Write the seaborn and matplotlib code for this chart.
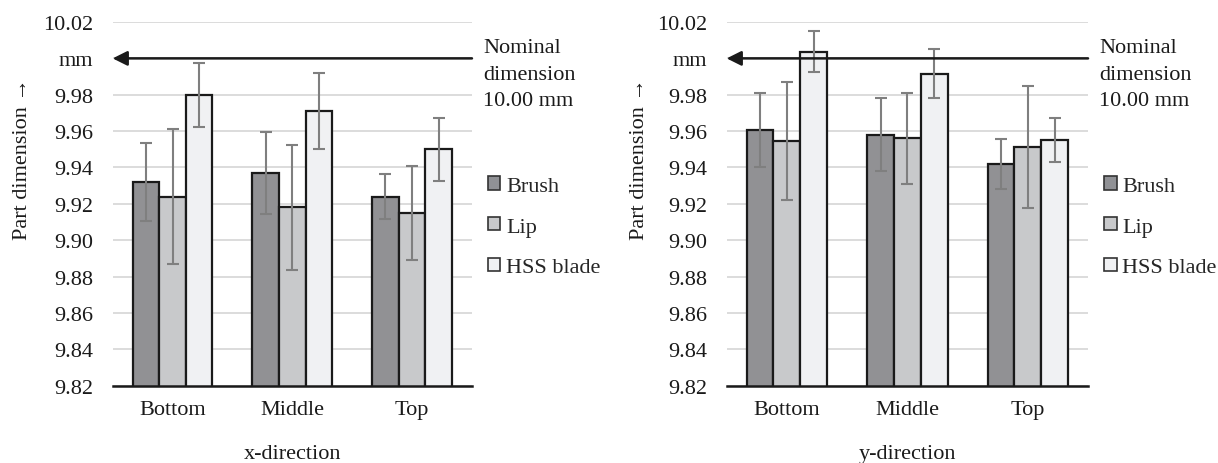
import numpy as np
import pandas as pd
import seaborn as sns
import matplotlib.pyplot as plt
from matplotlib.patches import Patch

# Measured part dimensions (mm) by position and post-processing method
positions = ["Bottom", "Middle", "Top"]
methods = ["Brush", "Lip", "HSS blade"]

x_mean = {
    "Brush": [9.932, 9.937, 9.924],
    "Lip": [9.924, 9.918, 9.915],
    "HSS blade": [9.980, 9.971, 9.950],
}
x_err = {
    "Brush": [0.0215, 0.0225, 0.0124],
    "Lip": [0.037, 0.0344, 0.026],
    "HSS blade": [0.0176, 0.021, 0.0173],
}
y_mean = {
    "Brush": [9.9606, 9.958, 9.9417],
    "Lip": [9.9544, 9.956, 9.9514],
    "HSS blade": [10.0037, 9.9916, 9.9551],
}
y_err = {
    "Brush": [0.0205, 0.0202, 0.0138],
    "Lip": [0.0325, 0.025, 0.0336],
    "HSS blade": [0.0113, 0.0133, 0.0121],
}

panel_titles = ["x-direction", "y-direction"]
y_ticks = [9.82, 9.84, 9.86, 9.88, 9.90, 9.92, 9.94, 9.96, 9.98, 10.00, 10.02]
y_ticklabels = ["9.82", "9.84", "9.86", "9.88", "9.90", "9.92", "9.94",
                "9.96", "9.98", "mm", "10.02"]
nominal = 10.00
nominal_text = "Nominal\ndimension\n10.00 mm"
y_label = "Part dimension \u2192"

colors = {"Brush": "#909195", "Lip": "#c8c9cb", "HSS blade": "#f0f1f3"}
ink = "#1a1a1a"
fs = 16

sns.set_theme(style="white")
plt.rcParams["font.family"] = ["Liberation Serif", "DejaVu Serif"]
plt.rcParams["font.size"] = fs

fig = plt.figure(figsize=(12.18, 4.64), dpi=100)
ax_l = fig.add_axes([0.0925, 0.1666, 0.295, 0.7838])
ax_r = fig.add_axes([0.5966, 0.1666, 0.2967, 0.7838])


def long_table(means, errs):
    rows = []
    for m in methods:
        for p, v, e in zip(positions, means[m], errs[m]):
            rows.append({"position": p, "method": m, "value": v, "err": e})
    return pd.DataFrame(rows)


panels = [(ax_l, x_mean, x_err, panel_titles[0], -0.252),
          (ax_r, y_mean, y_err, panel_titles[1], -0.24)]

for ax, means, errs, title, ylab_x in panels:
    df = long_table(means, errs)
    for yv in y_ticks:
        ax.axhline(yv, color="#d9d9d9", lw=1.3, zorder=0)
    sns.barplot(data=df, x="position", y="value", hue="method",
                order=positions, hue_order=methods, palette=colors,
                width=0.667, errorbar=None, edgecolor=ink,
                linewidth=1.6, legend=False, ax=ax, zorder=2)
    ax.set_ylim(9.82, 10.02)
    ax.set_xlim(-0.5, 2.5)
    # error bars centred on each drawn bar
    for cont, m in zip(ax.containers, methods):
        sub = df[df["method"] == m].set_index("position").loc[positions]
        xs = [b.get_x() + b.get_width() / 2 for b in cont]
        ax.errorbar(xs, sub["value"], yerr=sub["err"], fmt="none",
                    ecolor="#7f7f7f", elinewidth=1.5, capsize=4.2,
                    capthick=1.5, zorder=3)
    ax.set_yticks(y_ticks)
    ax.set_yticklabels(y_ticklabels)
    ax.tick_params(axis="both", length=0, labelsize=fs, colors=ink)
    ax.tick_params(axis="y", pad=14)
    ax.tick_params(axis="x", pad=10)
    for s in ["top", "right", "left"]:
        ax.spines[s].set_visible(False)
    ax.spines["bottom"].set_color(ink)
    ax.spines["bottom"].set_linewidth(1.8)
    ax.spines["bottom"].set_zorder(4)
    ax.set_xlabel(title, fontsize=fs, color=ink)
    ax.xaxis.set_label_coords(0.5, -0.186)
    ax.xaxis.label.set_va("center")
    ax.set_ylabel(y_label, fontsize=fs, color=ink)
    ax.yaxis.set_label_coords(ylab_x, 0.625)
    ax.yaxis.label.set_va("center")
    # nominal dimension arrow
    ax.annotate("", xy=(0, nominal), xytext=(1, nominal),
                xycoords=ax.get_yaxis_transform(),
                textcoords=ax.get_yaxis_transform(),
                arrowprops=dict(arrowstyle="-|>", color=ink, lw=1.8,
                                mutation_scale=22, shrinkA=0, shrinkB=0),
                zorder=5, annotation_clip=False)
    ax.text(1.031, 0.857, nominal_text, transform=ax.transAxes,
            ha="left", va="center", fontsize=fs, linespacing=1.56,
            color=ink)
    handles = [Patch(facecolor=colors[m], edgecolor="#333333", lw=1.2)
               for m in methods]
    ax.legend(handles, methods, loc="center left",
              bbox_to_anchor=(1.045, 0.437), frameon=False,
              handlelength=0.55, handleheight=0.55, handletextpad=0.25,
              labelspacing=0.95, borderpad=0, borderaxespad=0,
              fontsize=fs)

fig.savefig("out.png", dpi=100)
